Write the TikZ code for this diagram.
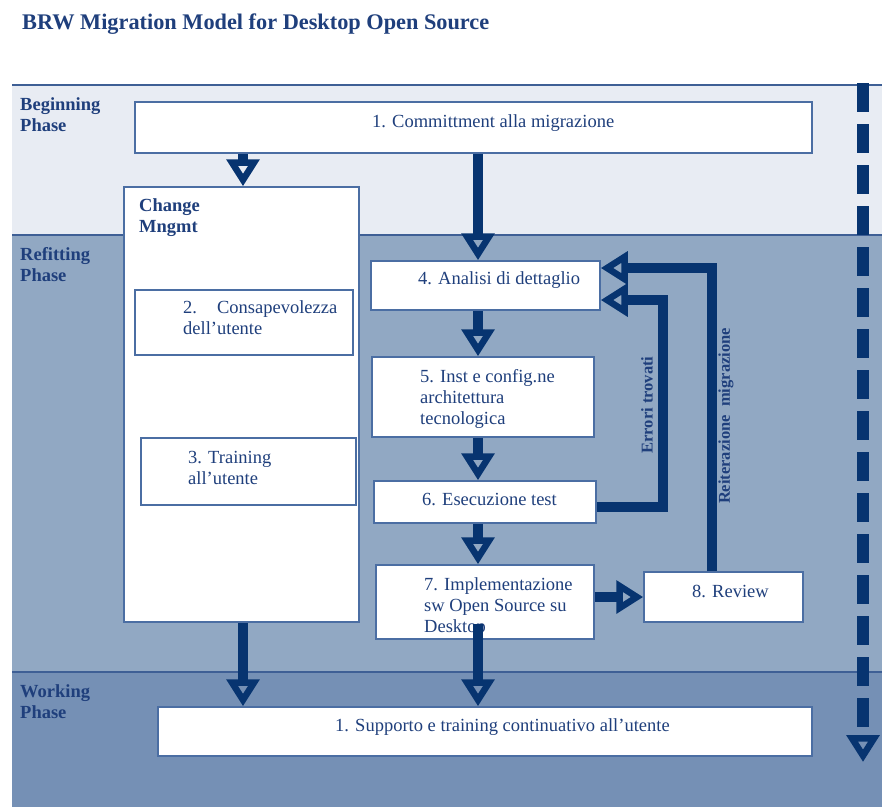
\documentclass[tikz,border=0pt]{standalone}
\usepackage{fontspec}
\setmainfont{Liberation Serif}
\usetikzlibrary{arrows.meta}
\definecolor{bandA}{HTML}{E8ECF3}
\definecolor{bandB}{HTML}{91A8C3}
\definecolor{bandC}{HTML}{7590B5}
\definecolor{rule}{HTML}{3E5F95}
\definecolor{ink}{HTML}{1F3F7C}
\definecolor{flow}{HTML}{073470}
\definecolor{frame}{HTML}{4B6EA3}
% several left-aligned lines whose first baseline sits at the anchor
\newcommand\stacklines[1]{\begin{tabular}[t]{@{}l@{}}#1\end{tabular}}
\begin{document}
\begin{tikzpicture}[x=1pt,y=-1pt,
  box/.style={draw=frame, line width=1.5pt, fill=white, inner sep=0pt},
  txt/.style={font=\fontsize{18.5}{21}\selectfont, text=ink, inner sep=0pt, anchor=base west},
  phase/.style={txt, font=\fontsize{18.5}{21}\selectfont\bfseries},
  sidelabel/.style={font=\fontsize{16.5}{19}\selectfont\bfseries, text=ink, inner sep=0pt, rotate=90},
  hollowtip/.style={-{Triangle[open, length=27pt, width=32pt, line width=6.5pt]}},
  flowarrow/.style={draw=flow, line width=10pt, line join=miter, hollowtip},
  bandrule/.style={draw=rule, line width=1.5pt},
]
\useasboundingbox (0,0) rectangle (882,807);
\fill[white] (0,0) rectangle (882,807);

% phase bands
\fill[bandA] (12,85) rectangle (882,235);
\fill[bandB] (12,235) rectangle (882,672);
\fill[bandC] (12,672) rectangle (882,807);
\draw[bandrule] (12,85) -- (882,85);
\draw[bandrule] (12,235) -- (882,235);
\draw[bandrule] (12,672) -- (882,672);

% title and phase names
\node[txt, font=\fontsize{22.3}{26}\selectfont\bfseries] (title) at (22,29) {BRW Migration Model for Desktop Open Source};
\node[phase] (pBegin) at (20,110) {\stacklines{Beginning\\Phase}};
\node[phase] (pRefit) at (20,260) {\stacklines{Refitting\\Phase}};
\node[phase] (pWork) at (20,697) {\stacklines{Working\\Phase}};

% boxes
\node[box, minimum width=677pt, minimum height=51pt] (b1) at (473.5,127.5) {};
\node[box, minimum width=235pt, minimum height=435pt] (chg) at (241.5,404.5) {};
\node[box, minimum width=218pt, minimum height=65pt] (b2) at (244,322.5) {};
\node[box, minimum width=215pt, minimum height=67pt] (b3) at (248.5,471.5) {};
\node[box, minimum width=229pt, minimum height=49pt] (b4) at (485.5,285.5) {};
\node[box, minimum width=222pt, minimum height=80pt] (b5) at (483,397) {};
\node[box, minimum width=222pt, minimum height=42pt] (b6) at (485,502) {};
\node[box, minimum width=218pt, minimum height=74pt] (b7) at (485,602) {};
\node[box, minimum width=159pt, minimum height=50pt] (b8) at (723.5,597) {};
\node[box, minimum width=654pt, minimum height=49pt] (sup) at (485,731.5) {};

% box texts
\node[txt] (t1) at (372,127) {1. Committment alla migrazione};
\node[phase] (tchg) at (139,211) {\stacklines{Change\\Mngmt}};
\node[txt] (t2) at (183,313) {\stacklines{2.\hspace{20pt}Consapevolezza\\dell’utente}};
\node[txt] (t3) at (188,463) {\stacklines{3. Training\\all’utente}};
\node[txt] (t4) at (418,284) {4. Analisi di dettaglio};
\node[txt] (t5) at (420,382) {\stacklines{5. Inst e config.ne\\architettura\\tecnologica}};
\node[txt] (t6) at (422,505) {6. Esecuzione test};
\node[txt] (t7) at (424,590) {\stacklines{7. Implementazione\\sw Open Source su\\Desktop}};
\node[txt] (t8) at (692,597) {8. Review};
\node[txt] (tsup) at (335,731) {1. Supporto e training continuativo all’utente};

% flow arrows
\coordinate (colL) at (243,0);
\coordinate (colM) at (478,0);
\draw[flowarrow] (b1.south -| colL) -- (chg.north -| colL);
\draw[flowarrow] (b1.south -| colM) -- (b4.north -| colM);
\draw[flowarrow] (b4.south -| colM) -- (b5.north -| colM);
\draw[flowarrow] (b5.south -| colM) -- (b6.north -| colM);
\draw[flowarrow] (b6.south -| colM) -- (b7.north -| colM);
\draw[flowarrow] ([yshift=16pt]b7.south -| colM) -- (sup.north -| colM);
\draw[flowarrow] (chg.south -| colL) -- (sup.north -| colL);
\draw[flowarrow] (b7.east |- b8.west) -- (b8.west);

% feedback loops
\coordinate (errOut) at (0,507);
\coordinate (errIn) at (0,300);
\coordinate (errX) at (663,0);
\draw[flowarrow] (b6.east |- errOut) -| (errX |- errIn) -- (b4.east |- errIn);
\coordinate (revX) at (712,0);
\coordinate (revIn) at (0,268);
\draw[flowarrow] (b8.north -| revX) |- (b4.east |- revIn);
\node[sidelabel] (lErr) at (647,405) {Errori trovati};
\node[sidelabel] (lRev) at (726,416) {Reiterazione\ \ migrazione};

% time line on the right
\coordinate (timeTop) at (863,83);
\coordinate (timeEnd) at (863,762);
\draw[draw=flow, line width=12pt, dash pattern=on 29pt off 12pt, hollowtip] (timeTop) -- (timeEnd);
\end{tikzpicture}
\end{document}
